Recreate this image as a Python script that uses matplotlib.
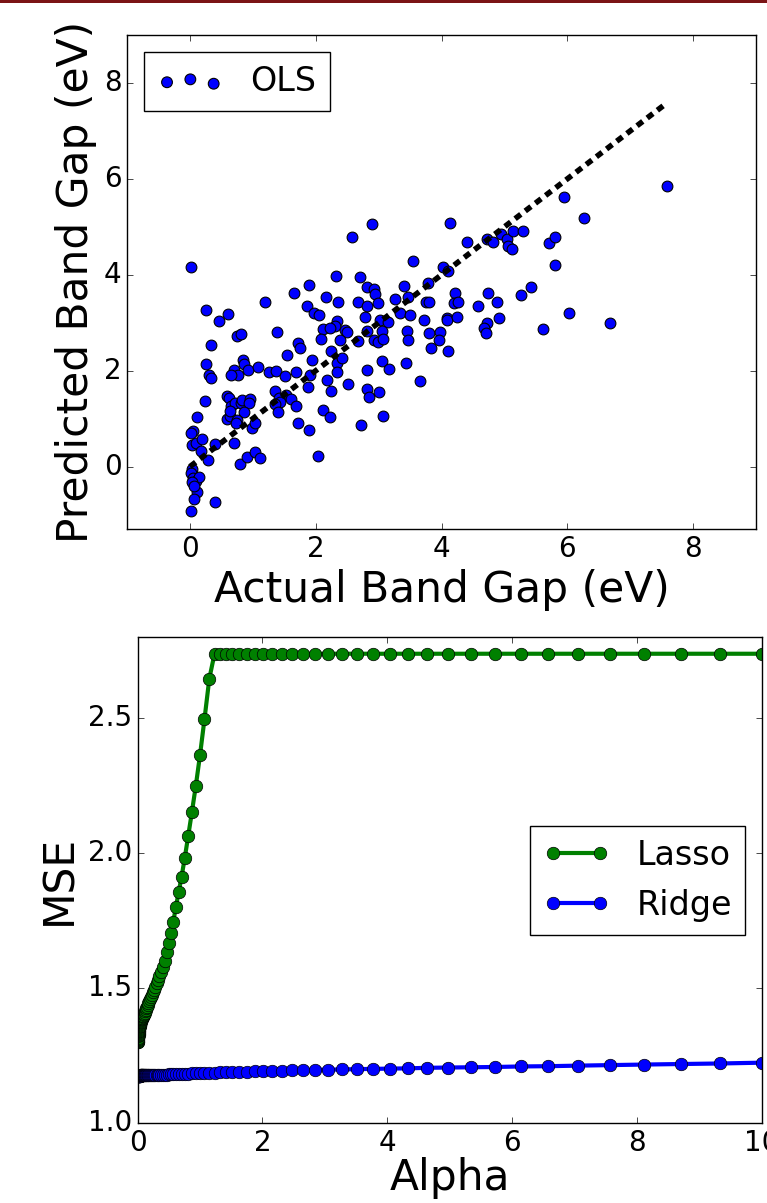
import matplotlib
matplotlib.use('Agg')
import matplotlib.pyplot as plt
from matplotlib.patches import Rectangle

plt.style.use('classic')
plt.rcParams['font.family'] = ['DejaVu Sans']

# ---- OLS: actual vs predicted band gap (eV) ----
actual = [0.02, 2.58, 2.90, 4.14, 3.54, 4.02, 4.11,
          2.33, 2.71, 1.90, 1.65, 2.81, 2.92, 2.94, 3.40, 3.78, 4.22, 1.19, 2.16,
          2.36, 2.67, 2.82, 2.99, 3.26, 3.46, 3.76, 3.80, 4.20, 4.26, 1.86, 1.97,
          2.06, 0.26, 0.61, 0.46, 2.78, 3.02, 3.15, 3.34, 3.50, 3.72, 4.08, 4.09,
          2.34, 2.31, 2.46, 2.49, 2.11, 2.23, 2.38, 2.08, 2.67, 2.81, 2.92, 2.99,
          3.06, 3.07, 3.45, 3.47, 3.80, 3.97, 3.96, 3.84, 4.10, 1.38, 0.75, 0.82,
          0.34, 1.72, 1.75, 1.55, 2.24, 2.34, 2.42, 1.94, 0.26, 0.30, 0.33, 0.84,
          0.86, 0.70, 0.77, 0.66, 0.93, 1.09, 1.26, 1.37, 1.51, 1.69, 1.91, 2.18,
          2.34, 2.51, 2.24, 1.87, 2.81, 3.05, 3.16, 3.43, 2.81, 2.85, 3.01, 3.07,
          2.72, 3.66, 0.24, 0.12, 0.59, 0.62, 0.66, 0.72, 0.81, 0.83, 0.96, 0.94,
          0.86, 0.59, 0.64, 0.75, 0.74, 0.99, 1.03, 1.35, 1.53, 1.41, 1.44, 1.35,
          1.40, 1.61, 1.69, 1.72, 1.89, 2.12, 2.23, 2.03, 0.05, 0.02, 0.04, 0.09,
          0.20, 0.18, 0.29, 0.40, 0.70, 0.80, 0.91, 1.03, 1.11, 0.03, 0.02, 0.05,
          0.10, 0.14, 0.03, 0.11, 0.06, 0.40, 0.02, 0.63, 0.06,
          7.58, 5.95, 6.26, 4.40, 4.73, 4.82, 4.94, 5.04, 5.14, 5.30, 5.06, 5.12,
          5.71, 5.81, 5.81,
          4.25, 4.58, 4.74, 4.88, 4.72, 4.68, 4.71, 4.92, 5.26, 5.43, 5.61, 6.03,
          6.68]
predicted = [4.16, 4.78, 5.05, 5.07, 4.29, 4.17, 4.07,
             3.98, 3.95, 3.79, 3.63, 3.74, 3.71, 3.60, 3.77, 3.83, 3.63, 3.43, 3.53,
             3.44, 3.44, 3.34, 3.42, 3.49, 3.53, 3.44, 3.44, 3.42, 3.44, 3.35, 3.20,
             3.17, 3.26, 3.18, 3.04, 3.11, 3.06, 3.01, 3.21, 3.17, 3.05, 3.10, 3.05,
             3.03, 2.94, 2.85, 2.80, 2.87, 2.89, 2.63, 2.66, 2.61, 2.82, 2.65, 2.59,
             2.82, 2.66, 2.83, 2.63, 2.79, 2.81, 2.65, 2.47, 2.42, 2.81, 2.73, 2.76,
             2.54, 2.58, 2.47, 2.33, 2.42, 2.17, 2.27, 2.22, 2.13, 1.92, 1.85, 2.22,
             2.14, 2.02, 1.90, 1.90, 2.02, 2.08, 1.97, 2.00, 1.88, 1.97, 1.90, 1.81,
             1.97, 1.73, 1.57, 1.65, 2.02, 2.21, 2.04, 2.16, 1.62, 1.45, 1.55, 1.05,
             0.86, 1.78, 1.36, 1.03, 1.47, 1.43, 1.26, 1.32, 1.33, 1.38, 1.40, 1.33,
             1.13, 1.00, 1.05, 0.98, 0.90, 0.81, 0.91, 1.57, 1.50, 1.43, 1.34, 1.30,
             1.14, 1.40, 1.27, 0.91, 0.76, 1.19, 1.04, 0.23, 0.74, 0.71, 0.45, 0.50,
             0.58, 0.32, 0.13, 0.48, 0.50, 0.06, 0.20, 0.31, 0.17, -0.04, -0.14, -0.23,
             -0.30, -0.22, -0.33, -0.52, -0.68, -0.74, -0.92, 1.15, -0.40,
             5.86, 5.63, 5.18, 4.68, 4.74, 4.68, 4.86, 4.74, 4.92, 4.92, 4.59, 4.54,
             4.66, 4.78, 4.21,
             3.13, 3.34, 3.63, 3.44, 2.99, 2.89, 2.79, 3.10, 3.57, 3.75, 2.87, 3.20,
             2.99]
ideal_x = [0.0, 7.58]
ideal_y = [0.0, 7.58]

# ---- Lasso / Ridge MSE vs alpha ----
alphas = [0.010000, 0.010723, 0.011498, 0.012328, 0.013219, 0.014175, 0.015199,
          0.016298, 0.017475, 0.018738, 0.020092, 0.021544, 0.023101, 0.024771,
          0.026561, 0.028480, 0.030539, 0.032745, 0.035112, 0.037649, 0.040370,
          0.043288, 0.046416, 0.049770, 0.053367, 0.057224, 0.061359, 0.065793,
          0.070548, 0.075646, 0.081113, 0.086975, 0.093260,
          0.10000, 0.10723, 0.11498, 0.12328, 0.13219, 0.14175, 0.15199,
          0.16298, 0.17475, 0.18738, 0.20092, 0.21544, 0.23101, 0.24771,
          0.26561, 0.28480, 0.30539, 0.32745, 0.35112, 0.37649, 0.40370,
          0.43288, 0.46416, 0.49770, 0.53367, 0.57224, 0.61359, 0.65793,
          0.70548, 0.75646, 0.81113, 0.86975, 0.93260,
          1.0000, 1.0723, 1.1498, 1.2328, 1.3219, 1.4175, 1.5199,
          1.6298, 1.7475, 1.8738, 2.0092, 2.1544, 2.3101, 2.4771,
          2.6561, 2.8480, 3.0539, 3.2745, 3.5112, 3.7649, 4.0370,
          4.3288, 4.6416, 4.9770, 5.3367, 5.7224, 6.1359, 6.5793,
          7.0548, 7.5646, 8.1113, 8.6975, 9.3260, 10.000]
lasso_mse = [1.300, 1.302, 1.305, 1.310, 1.314, 1.318, 1.322, 1.326, 1.330, 1.334,
             1.338, 1.341, 1.344, 1.347, 1.350, 1.353, 1.356, 1.359, 1.362, 1.365,
             1.368, 1.371, 1.374, 1.377, 1.380, 1.382, 1.385, 1.387, 1.389, 1.392,
             1.394, 1.396, 1.398,
             1.400, 1.405, 1.410, 1.415, 1.420, 1.426, 1.432, 1.438, 1.445, 1.452,
             1.459, 1.467, 1.476, 1.485, 1.495, 1.506, 1.518, 1.531, 1.545, 1.560,
             1.580, 1.603, 1.633,
             1.667, 1.704, 1.746, 1.800, 1.855, 1.913, 1.983, 2.063, 2.151, 2.248,
             2.362, 2.496, 2.646,
             2.738, 2.738, 2.738, 2.738, 2.738, 2.738, 2.738, 2.738, 2.738, 2.738,
             2.738, 2.738, 2.738, 2.738, 2.738, 2.738, 2.738, 2.738, 2.738, 2.738,
             2.738, 2.738, 2.738, 2.738, 2.738, 2.738, 2.738, 2.738, 2.738, 2.738,
             2.738]
ridge_mse = [1.176, 1.176, 1.176, 1.176, 1.176, 1.176, 1.176, 1.176, 1.176, 1.176,
             1.176, 1.177, 1.177, 1.177, 1.177, 1.177, 1.177, 1.177, 1.177, 1.177,
             1.177, 1.177, 1.178, 1.178, 1.178, 1.178, 1.178, 1.178, 1.178, 1.178,
             1.178, 1.178, 1.178,
             1.178, 1.178, 1.178, 1.178, 1.178, 1.178, 1.178, 1.179, 1.179, 1.179,
             1.179, 1.179, 1.179, 1.179, 1.180, 1.180, 1.180, 1.180, 1.180, 1.180,
             1.181, 1.181, 1.181, 1.182, 1.182, 1.182, 1.183, 1.183, 1.183, 1.184,
             1.184, 1.185, 1.186,
             1.187, 1.187, 1.188, 1.188, 1.189, 1.190, 1.191, 1.191, 1.192, 1.193,
             1.194, 1.195, 1.196, 1.197, 1.198, 1.199, 1.199, 1.200, 1.201, 1.202,
             1.203, 1.204, 1.206, 1.207, 1.208, 1.209, 1.211, 1.212, 1.214, 1.216,
             1.218, 1.220, 1.222, 1.225]

fig = plt.figure(figsize=(7.67, 12.03), dpi=100, facecolor='white')

# thin dark red band along the top edge
fig.patches.append(Rectangle((0, 1 - 3 / 1203), 1, 3 / 1203, transform=fig.transFigure,
                             facecolor='#7b1416', edgecolor='none'))

# ---- top panel: OLS parity plot ----
ax1 = fig.add_axes([0.1656, 0.5603, 0.8201, 0.4106])
ax1.scatter(actual, predicted, s=60, c='b', edgecolors='k', linewidths=0.8, label='OLS')
# classic style does not scale dashes with linewidth, so give them in points
ax1.plot(ideal_x, ideal_y, color='k', lw=4, linestyle=(0, (5.2, 4.0)))
ax1.set_xlim(-1, 9)
ax1.set_ylim(-1.3, 9)
ax1.set_xticks([0, 2, 4, 6, 8])
ax1.set_yticks([0, 2, 4, 6, 8])
ax1.tick_params(labelsize=20)
ax1.set_xlabel('Actual Band Gap (eV)', fontsize=30.5)
ax1.set_ylabel('Predicted Band Gap (eV)', fontsize=30.5)
ax1.legend(loc='upper left', fontsize=24, scatterpoints=3)

# ---- bottom panel: MSE vs alpha ----
ax2 = fig.add_axes([0.1793, 0.0661, 0.8142, 0.4044])
ax2.plot(alphas, lasso_mse, '-o', color='g', lw=3, ms=9, mec='k', mew=0.5, label='Lasso')
ax2.plot(alphas, ridge_mse, '-o', color='b', lw=3, ms=9, mec='k', mew=0.5, label='Ridge')
ax2.set_xlim(0, 10)
ax2.set_ylim(1.0, 2.8)
ax2.set_xticks([0, 2, 4, 6, 8, 10])
ax2.set_yticks([1.0, 1.5, 2.0, 2.5])
ax2.tick_params(labelsize=20)
ax2.set_xlabel('Alpha', fontsize=30.5, labelpad=0)
ax2.set_ylabel('MSE', fontsize=30.5)
ax2.legend(loc='center right', fontsize=24, numpoints=2)

fig.savefig('out.png', dpi=100, facecolor='white')
